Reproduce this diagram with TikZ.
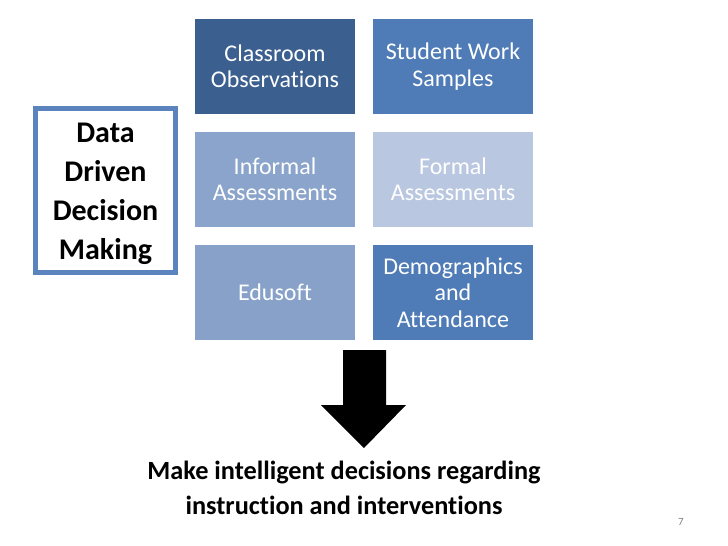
\documentclass[tikz,border=0pt]{standalone}
\usepackage{fontspec}
\setmainfont[Ligatures=NoCommon]{Carlito}
\begin{document}
\begin{tikzpicture}[x=1pt,y=-1pt,
  tile/.style={minimum width=160pt,minimum height=95pt,inner sep=0pt,
    text=white,align=center,font=\fontsize{24}{26.5}\selectfont},
  titlebox/.style={draw=frameblue,line width=5pt,minimum width=140pt,minimum height=164pt,
    inner sep=0pt,align=center,font=\fontsize{30}{39}\selectfont\bfseries},
]
\definecolor{cA}{HTML}{3B5F8E}
\definecolor{cB}{HTML}{4F7BB6}
\definecolor{cC}{HTML}{8AA4CB}
\definecolor{cD}{HTML}{B9C7E0}
\definecolor{cE}{HTML}{87A1C9}
\definecolor{frameblue}{HTML}{5B84BE}
\useasboundingbox[fill=white] (0,0) rectangle (728,546);
\node[tile,fill=cA] (obs) at (275,66.5) {Classroom\\Observations};
\node[tile,fill=cB] (work) at (453,66.5) {Student Work\\Samples};
\node[tile,fill=cC] (inf) at (275,179.5) {Informal\\Assessments};
\node[tile,fill=cD] (formal) at (453,179.5) {Formal\\Assessments};
\node[tile,fill=cE] (edu) at (275,292.5) {Edusoft};
\node[tile,fill=cB] (demo) at (453,292.5) {Demographics\\and\\Attendance};
\node[titlebox] (ddm) at (105.5,190.5) {};
\node[align=center,font=\fontsize{30}{39}\selectfont\bfseries] (ddmtext) at (105.5,193.5) {Data\\Driven\\Decision\\Making};
\fill[black] (343,350) -- (386,350) -- (386,405) -- (406,405) -- (364,448)
  -- (321,405) -- (343,405) -- cycle;
\node[align=center,font=\fontsize{26.3}{35}\selectfont\bfseries] (res) at (344,488)
  {Make intelligent decisions regarding\\instruction and interventions};
\node[text=gray,font=\fontsize{11}{13}\selectfont] (pg) at (681,522) {7};
\end{tikzpicture}
\end{document}
